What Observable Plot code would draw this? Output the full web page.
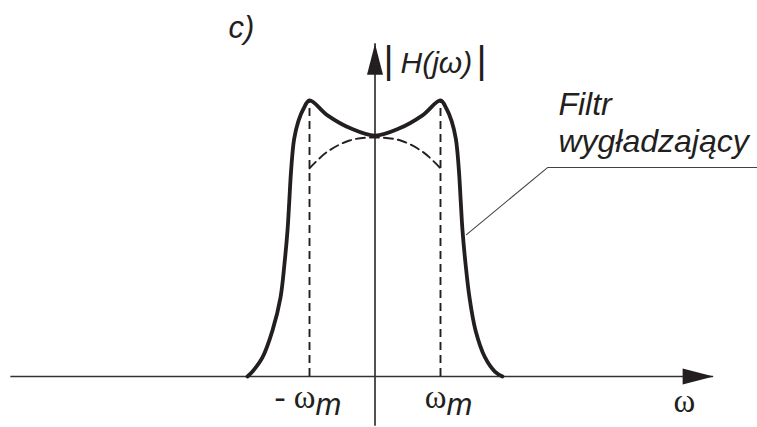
<!DOCTYPE html>
<html>
<head>
<meta charset="utf-8">
<script src="https://cdn.jsdelivr.net/npm/d3@7"></script>
<script src="https://cdn.jsdelivr.net/npm/@observablehq/plot@0.6"></script>
<style>
  body { margin: 0; background: #fff; }
</style>
</head>
<body>
<script>
// Magnitude response |H(jω)| of the smoothing filter.
// ω is expressed in units of ωm, the magnitude is normalised to the two peaks.
const filterW = [-1.947, -1.870, -1.718, -1.565, -1.443, -1.382, -1.336, -1.310, -1.280, -1.235, -1.170, -1.092, -1.000,
                 -0.725, -0.374, 0, 0.374, 0.725,
                 1.000, 1.092, 1.170, 1.235, 1.280, 1.310, 1.336, 1.382, 1.443, 1.535, 1.680, 1.830, 1.947];
const filterH = [0, 0.018, 0.069, 0.167, 0.286, 0.409, 0.529, 0.630, 0.750, 0.860, 0.925, 0.970, 1.000,
                 0.946, 0.899, 0.873, 0.899, 0.946,
                 1.000, 0.970, 0.925, 0.860, 0.750, 0.630, 0.529, 0.409, 0.286, 0.167, 0.069, 0.018, 0];

// Dashed inner response between -ωm and ωm
const innerW = [-1, -0.74, -0.39, 0, 0.39, 0.74, 1];
const innerH = [0.754, 0.812, 0.855, 0.866, 0.855, 0.812, 0.754];

// ±ωm markers and their labels
const markerW = [-1, 1];
const markerText = ["- ω", "ω"];
const markerSub = ["m", "m"];

// Axis extents (ω axis and |H| axis)
const xAxisSpan = [-5.56, 5.17];
const yAxisSpan = [-0.18, 1.206];

// Leader from the curve to the caption
const leaderW = [1.397, 2.634, 5.84];
const leaderH = [0.514, 0.757, 0.757];

const ink = "#231f20";
const sans = "'Liberation Sans', Arial, Helvetica, sans-serif";
const serif = "'Liberation Serif', 'Times New Roman', serif";

const filter = filterW.map((w, i) => ({w, h: filterH[i]}));
const inner = innerW.map((w, i) => ({w, h: innerH[i]}));
const leader = leaderW.map((w, i) => ({w, h: leaderH[i]}));
const peak = d3.max(filterH);

// Filled arrowhead for the axis ends
const arrowHead = {
  draw(context, l) {
    const half = 8;
    context.moveTo(0, -l);
    context.lineTo(-half, 0);
    context.lineTo(half, 0);
    context.closePath();
  }
};

const chart = Plot.plot({
  width: 757,
  height: 427,
  margin: 0,
  x: {domain: [-5.718, 5.840], axis: null},
  y: {domain: [-0.1848, 1.3623], axis: null},
  style: {background: "#fff", color: ink, fontFamily: sans},
  marks: [
    // axes
    Plot.ruleY([0], {x1: xAxisSpan[0], x2: xAxisSpan[1], stroke: "#333", strokeWidth: 1.7}),
    Plot.ruleX([0], {y1: yAxisSpan[0], y2: yAxisSpan[1], stroke: "#333", strokeWidth: 1.7}),
    Plot.vector(
      [{w: xAxisSpan[1], h: 0, r: 90}, {w: 0, h: yAxisSpan[1], r: 0}],
      {x: "w", y: "h", rotate: "r", length: 31, anchor: "end", shape: arrowHead, fill: ink, stroke: "none"}
    ),
    // ±ωm guides
    Plot.ruleX(markerW, {y1: 0, y2: peak, stroke: ink, strokeWidth: 1.9, strokeDasharray: "8,5"}),
    // inner dashed arc
    Plot.line(inner, {x: "w", y: "h", curve: "catmull-rom", stroke: ink, strokeWidth: 1.9, strokeDasharray: "9,5"}),
    // filter response
    Plot.line(filter, {x: "w", y: "h", curve: "catmull-rom", stroke: ink, strokeWidth: 3.8}),
    // leader line
    Plot.line(leader, {x: "w", y: "h", stroke: "#444", strokeWidth: 1.1}),
    // labels
    Plot.text(["c)"], {x: () => -2.237, y: () => 1.228, text: d => d, textAnchor: "start", lineAnchor: "bottom",
      fontSize: 31, fontStyle: "italic", fill: ink}),
    Plot.text(["H(jω)"], {x: () => 0.389, y: () => 1.101, text: d => d, textAnchor: "start", lineAnchor: "bottom",
      fontSize: 30, fontStyle: "italic", fill: ink}),
    Plot.text([0.206, 1.626], {x: d => d, y: () => 1.101, text: () => "|", textAnchor: "middle", lineAnchor: "bottom",
      fontSize: 39, fill: ink}),
    Plot.text(["Filtr\nwygładzający"], {x: () => 2.80, y: () => 0.812, text: d => d, textAnchor: "start", lineAnchor: "bottom",
      lineHeight: 1.16, fontSize: 32, fontStyle: "italic", fill: ink}),
    Plot.text(markerW, {x: d => d, y: () => 0, text: (d, i) => markerText[i], textAnchor: "end", lineAnchor: "bottom",
      dx: 6, dy: 32, fontSize: 33, fontFamily: serif, fill: ink}),
    Plot.text(markerW, {x: d => d, y: () => 0, text: (d, i) => markerSub[i], textAnchor: "start", lineAnchor: "bottom",
      dx: 6, dy: 39, fontSize: 31, fontStyle: "italic", fill: ink}),
    Plot.text(["ω"], {x: () => 4.725, y: () => 0, text: d => d, textAnchor: "middle", lineAnchor: "bottom",
      dy: 36, fontSize: 33, fontFamily: serif, fill: ink})
  ]
});

document.body.append(chart);
</script>
</body>
</html>
